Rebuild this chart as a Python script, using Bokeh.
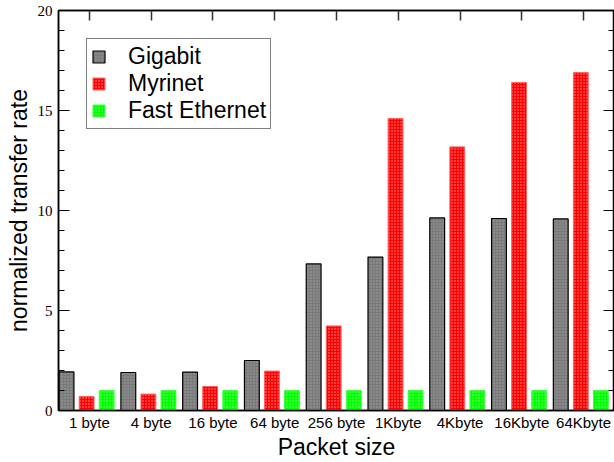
from bokeh.plotting import figure
from bokeh.models import (Range1d, LinearAxis, FixedTicker, SingleIntervalTicker,
                          ColumnDataSource, Legend, LegendItem, CustomJSTickFormatter)
from bokeh.transform import dodge
from bokeh.embed import file_html
from bokeh.resources import INLINE

categories = ["1 byte", "4 byte", "16 byte", "64 byte", "256 byte",
              "1Kbyte", "4Kbyte", "16Kbyte", "64Kbyte"]
gigabit = [1.93, 1.90, 1.92, 2.50, 7.33, 7.67, 9.63, 9.60, 9.58]
myrinet = [0.70, 0.82, 1.20, 1.97, 4.23, 14.60, 13.18, 16.40, 16.90]
fast_ethernet = [1.0, 1.0, 1.0, 1.0, 1.0, 1.0, 1.0, 1.0, 1.0]
positions = [1, 2, 3, 4, 5, 6, 7, 8, 9]

src = ColumnDataSource(dict(pos=positions, cat=categories, g=gigabit,
                            m=myrinet, f=fast_ethernet))

SANS = "Liberation Sans"
SERIF = "Liberation Serif"

p = figure(width=614, height=462, x_range=Range1d(0.5, 9.5), y_range=Range1d(0, 20),
           output_backend="svg", toolbar_location=None,
           min_border_left=58, min_border_right=0, min_border_top=10, min_border_bottom=52,
           x_axis_label="Packet size", y_axis_label="normalized transfer rate")
p.xgrid.visible = False
p.ygrid.visible = False
p.outline_line_color = "black"
p.outline_line_width = 1.5
p.background_fill_color = "white"
p.border_fill_color = "white"

bw = 0.24
rg = p.vbar(x=dodge("pos", -0.37, range=p.x_range), top="g", width=bw, source=src,
            fill_color="#7a7a7a", line_color="black", line_width=1.2,
            hatch_pattern="dot", hatch_color="white", hatch_alpha=0.3, hatch_scale=3)
rm = p.vbar(x=dodge("pos", -0.045, range=p.x_range), top="m", width=bw, source=src,
            fill_color="#ff0000", line_color="#ff6060", line_width=1,
            hatch_pattern="dot", hatch_color="white", hatch_alpha=0.6, hatch_scale=3)
rf = p.vbar(x=dodge("pos", 0.28, range=p.x_range), top="f", width=bw, source=src,
            fill_color="#00ff00", line_color="#40ff40", line_width=1,
            hatch_pattern="dot", hatch_color="white", hatch_alpha=0.5, hatch_scale=3)

blank = CustomJSTickFormatter(code="return '';")

# bottom axis
xa = p.xaxis[0]
xa.ticker = FixedTicker(ticks=positions)
xa.major_label_overrides = {pos: c for pos, c in zip(positions, categories)}
xa.major_tick_line_color = None
xa.minor_tick_line_color = None
xa.major_tick_in = 0
xa.major_tick_out = 0
xa.major_label_standoff = 3
xa.major_label_text_font = SANS
xa.major_label_text_font_size = "15px"
xa.major_label_text_color = "black"
xa.axis_label_text_font = SANS
xa.axis_label_text_font_size = "23px"
xa.axis_label_text_font_style = "normal"
xa.axis_label_text_color = "black"
xa.axis_label_standoff = 0
xa.axis_line_color = "black"
xa.axis_line_width = 1.5

# left axis
ya = p.yaxis[0]
ya.ticker = SingleIntervalTicker(interval=5, num_minor_ticks=5)
ya.major_tick_in = 11
ya.major_tick_out = 0
ya.minor_tick_in = 6
ya.minor_tick_out = 0
ya.major_tick_line_color = "black"
ya.minor_tick_line_color = "black"
ya.major_label_standoff = 6
ya.major_label_text_font = SERIF
ya.major_label_text_font_size = "15px"
ya.major_label_text_color = "black"
ya.axis_label_text_font = SANS
ya.axis_label_text_font_size = "23px"
ya.axis_label_text_font_style = "normal"
ya.axis_label_text_color = "black"
ya.axis_label_standoff = 3
ya.axis_line_color = "black"
ya.axis_line_width = 1.5

# top axis (ticks only)
top = LinearAxis(ticker=FixedTicker(ticks=positions), formatter=blank,
                 major_tick_in=10, major_tick_out=0, minor_tick_line_color=None,
                 major_label_standoff=0, axis_line_color="black", axis_line_width=1.5,
                 major_tick_line_color="#333333", major_tick_line_width=1.5)
p.add_layout(top, "above")

# right axis (ticks only)
right = LinearAxis(ticker=SingleIntervalTicker(interval=5, num_minor_ticks=5),
                   formatter=blank, major_label_standoff=0,
                   major_tick_in=11, major_tick_out=0, minor_tick_in=6, minor_tick_out=0,
                   axis_line_color="black", axis_line_width=1.5,
                   major_tick_line_color="black", minor_tick_line_color="black")
p.add_layout(right, "right")

legend = Legend(items=[LegendItem(label="Gigabit", renderers=[rg]),
                       LegendItem(label="Myrinet", renderers=[rm]),
                       LegendItem(label="Fast Ethernet", renderers=[rf])],
                location="top_left", margin=28,
                label_text_font=SANS, label_text_font_size="23px",
                label_text_color="black", glyph_width=15, glyph_height=15,
                label_height=20, label_standoff=22, spacing=-4, padding=4,
                border_line_color="black", border_line_width=1,
                background_fill_color="white", background_fill_alpha=1)
p.add_layout(legend, "center")

open("out.html", "w").write(file_html(p, INLINE))
